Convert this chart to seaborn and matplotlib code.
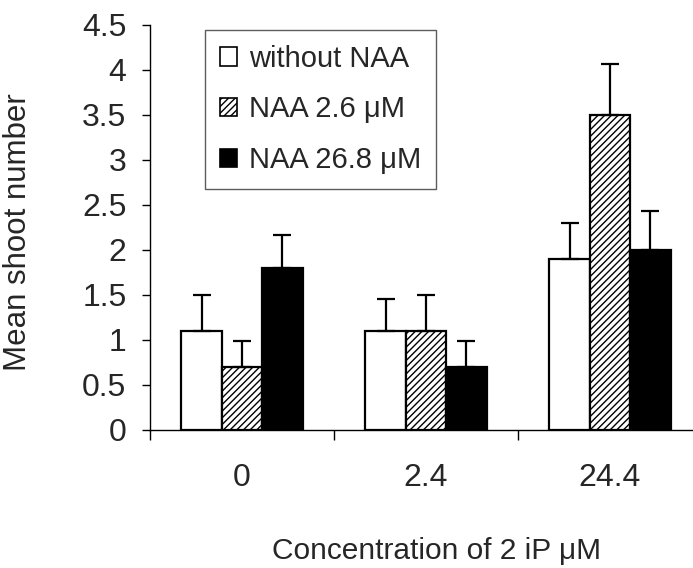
import matplotlib
matplotlib.use("Agg")
import matplotlib.pyplot as plt
import seaborn as sns
import numpy as np
import pandas as pd

# ---- data ----
categories = ["0", "2.4", "24.4"]
series_names = ["without NAA", "NAA 2.6 μM", "NAA 26.8 μM"]
without_naa = [1.1, 1.1, 1.9]
naa_2_6 = [0.7, 1.1, 3.5]
naa_26_8 = [1.8, 0.7, 2.0]
err_without_naa = [0.4, 0.35, 0.4]
err_naa_2_6 = [0.28, 0.4, 0.56]
err_naa_26_8 = [0.36, 0.28, 0.43]
y_ticks = [0, 0.5, 1, 1.5, 2, 2.5, 3, 3.5, 4, 4.5]
y_tick_labels = ["0", "0.5", "1", "1.5", "2", "2.5", "3", "3.5", "4", "4.5"]
x_label = "Concentration of 2 iP μM"
y_label = "Mean shoot number"

values = [without_naa, naa_2_6, naa_26_8]
errors = [err_without_naa, err_naa_2_6, err_naa_26_8]

rows = []
for name, vals in zip(series_names, values):
    for c, v in zip(categories, vals):
        rows.append({"conc": c, "value": v, "treatment": name})
df = pd.DataFrame(rows)

sns.set_style("white")
plt.rcParams["font.family"] = ["Liberation Sans", "DejaVu Sans"]
plt.rcParams["hatch.linewidth"] = 1.0

fig = plt.figure(figsize=(6.93, 5.68), dpi=100)
ax = fig.add_axes([150 / 693, (568 - 429.5) / 568, 552 / 693, 405 / 568])

sns.barplot(data=df, x="conc", y="value", hue="treatment",
            order=categories, hue_order=series_names,
            palette=["white", "white", "black"], saturation=1,
            edgecolor="black", linewidth=1.6, width=0.66,
            errorbar=None, legend=False, ax=ax)

bar_containers = list(ax.containers[:3])
for p in bar_containers[1]:
    p.set_hatch("/////")

for cont, vals, errs in zip(bar_containers, values, errors):
    xs = [p.get_x() + p.get_width() / 2 for p in cont]
    ax.errorbar(xs, vals, yerr=[np.zeros(len(errs)), errs], fmt="none",
                ecolor="black", elinewidth=1.6, capsize=6.8, capthick=1.6,
                zorder=1)

ax.set_xlim(-0.5, 2.5)
ax.set_ylim(0, 4.5)
ax.set_yticks(y_ticks)
ax.set_yticklabels(y_tick_labels)
ax.set_xticks([0, 1, 2])
ax.set_xticklabels(categories)
ax.set_xticks([-0.5, 0.5, 1.5, 2.5], minor=True)

for s in ["top", "right"]:
    ax.spines[s].set_visible(False)
for s in ["left", "bottom"]:
    ax.spines[s].set_color("black")
    ax.spines[s].set_linewidth(1.0)

ax.tick_params(axis="y", which="major", direction="out", length=6, width=1,
               color="black", labelsize=23, pad=11, left=True)
ax.tick_params(axis="x", which="major", length=0, labelsize=23, pad=24)
ax.tick_params(axis="x", which="minor", direction="out", length=7, width=1,
               color="black", bottom=True)

ax.set_xlabel(x_label, fontsize=21.5)
ax.set_ylabel(y_label, fontsize=22.5)
ax.xaxis.set_label_coords(0.52, -0.265)
ax.yaxis.set_label_coords(-0.212, 0.4877)

leg = ax.legend(bar_containers, series_names, loc="upper left",
                bbox_to_anchor=(205 / 693, 1 - 30 / 568),
                bbox_transform=fig.transFigure, borderaxespad=0,
                fontsize=21, handlelength=0.6, handleheight=0.6,
                handletextpad=0.42, labelspacing=0.78, borderpad=0.5,
                frameon=True, fancybox=False, shadow=False)
leg.get_frame().set_edgecolor("#333333")
leg.get_frame().set_linewidth(1.0)
leg.get_frame().set_facecolor("white")
for h in leg.legend_handles:
    h.set_linewidth(1.2)

fig.savefig("out.png", dpi=100)
